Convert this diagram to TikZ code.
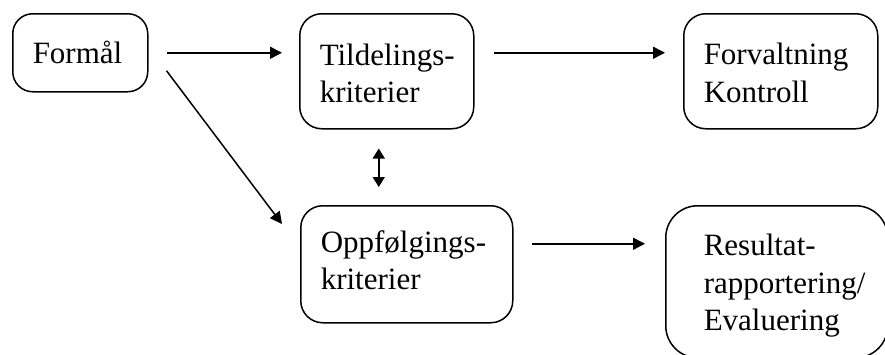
\documentclass[tikz,border=0pt]{standalone}
\usepackage{fontspec}
\setmainfont{Liberation Serif}
\usetikzlibrary{arrows.meta}
\begin{document}
\begin{tikzpicture}[x=1pt,y=-1pt,
  box/.style={draw, line width=1.5pt, rounded corners=22pt, anchor=north west, align=left,
    inner xsep=20pt, inner ysep=0pt, text height=0pt,
    font={\fontsize{31}{37.5}\selectfont\hyphenpenalty10000\exhyphenpenalty10000\relax}},
  arr/.style={line width=1.5pt, -{Triangle[length=12pt,width=12pt]}},
  dbl/.style={line width=1.5pt, {Triangle[length=10pt,width=12pt]}-{Triangle[length=10pt,width=12pt]}}]
\path[use as bounding box, clip] (0,0) rectangle (885,354);
\node[box, rounded corners=20pt, text width=95pt, minimum width=135pt, minimum height=78pt, text height=22pt, text depth=0pt] (f) at (12,13) {Formål};
\node[box, text width=134pt, minimum width=174pt, minimum height=115pt, text depth=12pt] (t) at (299,13) {Tildelings-\\kriterier};
\node[box, text width=154pt, minimum width=194pt, minimum height=115pt, text depth=13pt] (fv) at (683,13) {Forvaltning\\Kontroll};
\node[box, text width=172pt, minimum width=212pt, minimum height=117pt, text depth=23.6pt] (o) at (300,205) {Oppfølgings-\\kriterier};
\node[box, rounded corners=32pt, inner xsep=38pt, text width=146pt, minimum width=222pt, minimum height=152pt, text depth=52pt] (r) at (665,205) {Resultat-\\rapportering/\\Evaluering};
\coordinate (fa) at ([xshift=18pt]f.east);
\draw[arr] (fa) -- ([xshift=-17pt]fa -| t.west);
\coordinate (ta) at ([xshift=19pt]fa -| t.east);
\draw[arr] (ta) -- ([xshift=-18pt]ta -| fv.west);
\draw[arr] ([xshift=18pt,yshift=-18pt]f.east) -- ([xshift=-18pt,yshift=-19pt]o.north west);
\draw[dbl] ([xshift=-8pt,yshift=-19pt]t.south) -- ([xshift=-28pt,yshift=18pt]o.north);
\coordinate (oa) at ([xshift=18pt,yshift=20.5pt]o.east);
\draw[arr] (oa) -- ([xshift=-20pt]oa -| r.west);
\end{tikzpicture}
\end{document}
